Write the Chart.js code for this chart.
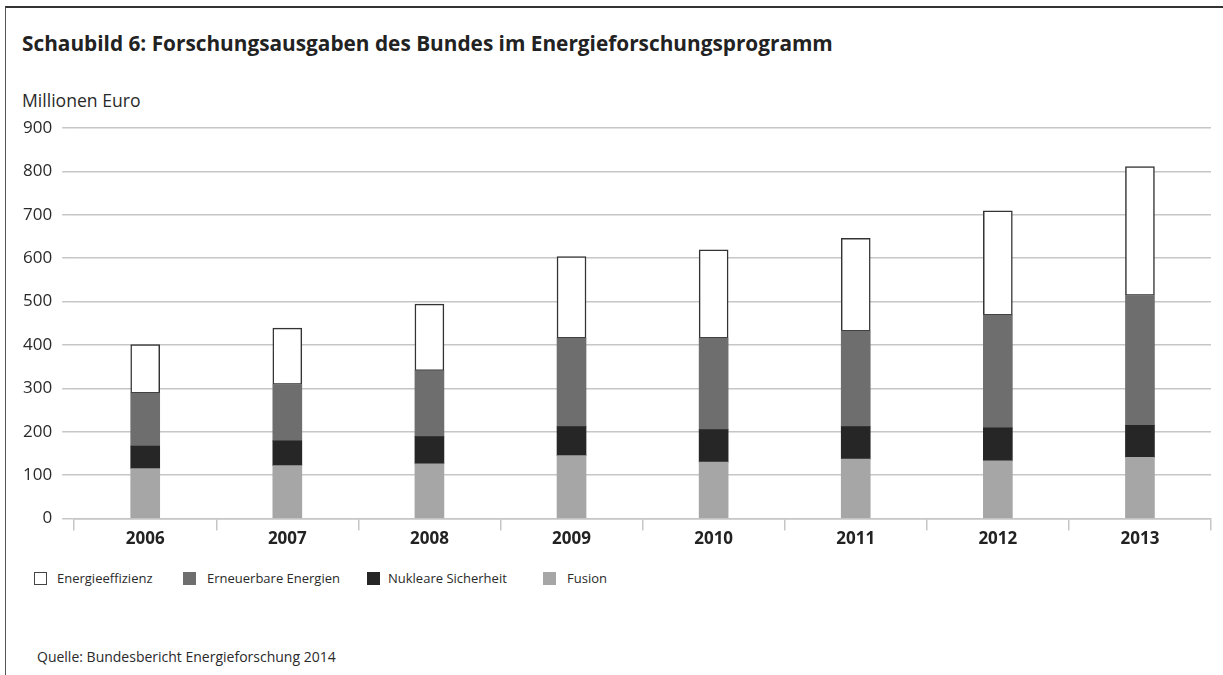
<!DOCTYPE html>
<html>
<head>
<meta charset="utf-8">
<script src="https://cdn.jsdelivr.net/npm/chart.js@4.4.1/dist/chart.umd.min.js"></script>
<style>
  html, body { margin: 0; padding: 0; background: #fff; }
  body { width: 1223px; height: 675px; position: relative; overflow: hidden; font-family: "Open Sans", sans-serif; color: #2a2a2a; }
  #frame { position: absolute; left: 5px; top: 6px; right: -10px; bottom: -10px; border-left: 1.5px solid #555; border-top: 2px solid #333; }
  #title { position: absolute; left: 22px; top: 30px; font-size: 20.8px; font-weight: 700; line-height: 26px; color: #222; white-space: nowrap; }
  #unit { position: absolute; left: 22px; top: 89px; font-size: 17.6px; line-height: 22px; color: #2a2a2a; white-space: nowrap; }
  #source { position: absolute; left: 37px; top: 647px; font-size: 14px; line-height: 20px; color: #2a2a2a; white-space: nowrap; }
  .lg-box { position: absolute; top: 572px; width: 13px; height: 13px; box-sizing: border-box; }
  .lg-txt { position: absolute; top: 569px; font-size: 13px; line-height: 18px; color: #2a2a2a; white-space: nowrap; }
  #wrap { position: absolute; left: 0; top: 100px; width: 1223px; height: 450px; }
</style>
</head>
<body>
<div id="frame"></div>
<div id="title">Schaubild 6: Forschungsausgaben des Bundes im Energieforschungsprogramm</div>
<div id="unit">Millionen Euro</div>
<div id="wrap"><canvas id="c"></canvas></div>
<div id="legend"></div>
<div id="source">Quelle: Bundesbericht Energieforschung 2014</div>
<script>
// ---- data ----
const years = ["2006", "2007", "2008", "2009", "2010", "2011", "2012", "2013"];
const fusion = [115, 122, 126, 145, 130, 137, 133, 141];
const nukleareSicherheit = [52, 57, 63, 67, 75, 75, 76, 74];
const erneuerbareEnergien = [122, 130, 152, 204, 211, 220, 260, 299];
const energieeffizienz = [112, 130, 153, 188, 203, 214, 240, 297];
const yTicks = [0, 100, 200, 300, 400, 500, 600, 700, 800, 900];
const seriesNames = ["Energieeffizienz", "Erneuerbare Energien", "Nukleare Sicherheit", "Fusion"];

// ---- styles ----
const colEff = "#ffffff", colErn = "#6e6e6e", colNuk = "#262626", colFus = "#a6a6a6";
const gridCol = "#c6c6c6";

// legend (HTML)
const legendDefs = [
  { name: seriesNames[0], box: 34, txt: 57, fill: colEff, border: "1px solid #444" },
  { name: seriesNames[1], box: 183, txt: 207, fill: colErn, border: "none" },
  { name: seriesNames[2], box: 367, txt: 388, fill: colNuk, border: "none" },
  { name: seriesNames[3], box: 543, txt: 567, fill: colFus, border: "none" }
];
const lg = document.getElementById("legend");
legendDefs.forEach(d => {
  const b = document.createElement("div");
  b.className = "lg-box";
  b.style.left = d.box + "px";
  b.style.background = d.fill;
  b.style.border = d.border;
  lg.appendChild(b);
  const t = document.createElement("div");
  t.className = "lg-txt";
  t.style.left = d.txt + "px";
  t.textContent = d.name;
  lg.appendChild(t);
});

const ds = (label, data, bg, extra) => Object.assign({
  label, data, backgroundColor: bg, borderWidth: 0, barThickness: 29, stack: "s"
}, extra || {});

new Chart(document.getElementById("c"), {
  type: "bar",
  data: {
    labels: years,
    datasets: [
      ds(seriesNames[3], fusion, colFus),
      ds(seriesNames[2], nukleareSicherheit, colNuk),
      ds(seriesNames[1], erneuerbareEnergien, colErn),
      ds(seriesNames[0], energieeffizienz, colEff, { borderColor: "#333", borderWidth: 1.5, borderSkipped: false })
    ]
  },
  options: {
    responsive: true,
    maintainAspectRatio: false,
    animation: false,
    layout: { padding: { left: 13, right: 12, top: 28, bottom: 3 } },
    plugins: { legend: { display: false }, tooltip: { enabled: false } },
    scales: {
      x: {
        stacked: true,
        grid: { display: true, offset: true, drawOnChartArea: false, drawTicks: true, tickLength: 12, color: gridCol, lineWidth: 1.5 },
        border: { display: true, color: gridCol, width: 1.5 },
        ticks: { padding: -2, color: "#222", font: { family: "Open Sans", size: 17, weight: "bold" } }
      },
      y: {
        stacked: true,
        min: 0, max: 900,
        afterBuildTicks: (axis) => { axis.ticks = yTicks.map(v => ({ value: v })); },
        grid: { color: gridCol, lineWidth: 1.5, drawTicks: true, tickLength: 12 },
        border: { display: false },
        ticks: { padding: 10, color: "#2a2a2a", font: { family: "Open Sans", size: 17 } }
      }
    }
  }
});
</script>
</body>
</html>
